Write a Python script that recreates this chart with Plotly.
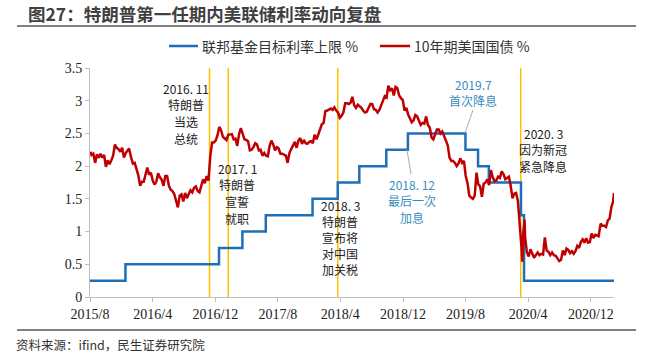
import plotly.graph_objects as go

# ---------------- data ----------------
fed_dates = ["2015-08-01", "2015-12-17", "2016-12-15", "2017-03-16", "2017-06-15",
             "2017-12-14", "2018-03-22", "2018-06-14", "2018-09-27", "2018-12-20",
             "2019-08-01", "2019-09-19", "2019-10-31", "2020-03-04", "2020-03-16",
             "2021-03-01"]
fed_upper = [0.25, 0.50, 0.75, 1.00, 1.25, 1.50, 1.75, 2.00, 2.25, 2.50,
             2.25, 2.00, 1.75, 1.25, 0.25, 0.25]

ust_dates = [
    "2015-08-03", "2015-08-07", "2015-08-14", "2015-08-21", "2015-08-28",
    "2015-09-04", "2015-09-11", "2015-09-18", "2015-09-25",
    "2015-10-02", "2015-10-09", "2015-10-16", "2015-10-23", "2015-10-30",
    "2015-11-06", "2015-11-13", "2015-11-20", "2015-11-27",
    "2015-12-04", "2015-12-11", "2015-12-18", "2015-12-25", "2015-12-31",
    "2016-01-08", "2016-01-15", "2016-01-22", "2016-01-29",
    "2016-02-05", "2016-02-12", "2016-02-19", "2016-02-26",
    "2016-03-04", "2016-03-11", "2016-03-18", "2016-03-25",
    "2016-04-01", "2016-04-08", "2016-04-15", "2016-04-22", "2016-04-29",
    "2016-05-06", "2016-05-13", "2016-05-20", "2016-05-27",
    "2016-06-03", "2016-06-10", "2016-06-17", "2016-06-24", "2016-07-01",
    "2016-07-08", "2016-07-15", "2016-07-22", "2016-07-29",
    "2016-08-05", "2016-08-12", "2016-08-19", "2016-08-26",
    "2016-09-02", "2016-09-09", "2016-09-16", "2016-09-23", "2016-09-30",
    "2016-10-07", "2016-10-14", "2016-10-21", "2016-10-28",
    "2016-11-04", "2016-11-09", "2016-11-11", "2016-11-18", "2016-11-25",
    "2016-12-02", "2016-12-09", "2016-12-16", "2016-12-23", "2016-12-30",
    "2017-01-06", "2017-01-13", "2017-01-20", "2017-01-27",
    "2017-02-03", "2017-02-10", "2017-02-17", "2017-02-24",
    "2017-03-03", "2017-03-10", "2017-03-17", "2017-03-24", "2017-03-31",
    "2017-04-07", "2017-04-14", "2017-04-21", "2017-04-28",
    "2017-05-05", "2017-05-12", "2017-05-19", "2017-05-26",
    "2017-06-02", "2017-06-09", "2017-06-16", "2017-06-23", "2017-06-30",
    "2017-07-07", "2017-07-14", "2017-07-21", "2017-07-28",
    "2017-08-04", "2017-08-11", "2017-08-18", "2017-08-25",
    "2017-09-01", "2017-09-08", "2017-09-15", "2017-09-22", "2017-09-29",
    "2017-10-06", "2017-10-13", "2017-10-20", "2017-10-27",
    "2017-11-03", "2017-11-10", "2017-11-17", "2017-11-24",
    "2017-12-01", "2017-12-08", "2017-12-15", "2017-12-22", "2017-12-29",
    "2018-01-05", "2018-01-12", "2018-01-19", "2018-01-26",
    "2018-02-02", "2018-02-09", "2018-02-16", "2018-02-23",
    "2018-03-02", "2018-03-09", "2018-03-16", "2018-03-23", "2018-03-30",
    "2018-04-06", "2018-04-13", "2018-04-20", "2018-04-27",
    "2018-05-04", "2018-05-11", "2018-05-18", "2018-05-25",
    "2018-06-01", "2018-06-08", "2018-06-15", "2018-06-22", "2018-06-29",
    "2018-07-06", "2018-07-13", "2018-07-20", "2018-07-27",
    "2018-08-03", "2018-08-10", "2018-08-17", "2018-08-24", "2018-08-31",
    "2018-09-07", "2018-09-14", "2018-09-21", "2018-09-28",
    "2018-10-05", "2018-10-12", "2018-10-19", "2018-10-26",
    "2018-11-02", "2018-11-09", "2018-11-16", "2018-11-23", "2018-11-30",
    "2018-12-07", "2018-12-14", "2018-12-21", "2018-12-28",
    "2019-01-04", "2019-01-11", "2019-01-18", "2019-01-25",
    "2019-02-01", "2019-02-08", "2019-02-15", "2019-02-22",
    "2019-03-01", "2019-03-08", "2019-03-15", "2019-03-22", "2019-03-29",
    "2019-04-05", "2019-04-12", "2019-04-19", "2019-04-26",
    "2019-05-03", "2019-05-10", "2019-05-17", "2019-05-24", "2019-05-31",
    "2019-06-07", "2019-06-14", "2019-06-21", "2019-06-28",
    "2019-07-05", "2019-07-12", "2019-07-19", "2019-07-26",
    "2019-08-02", "2019-08-09", "2019-08-16", "2019-08-23", "2019-08-30",
    "2019-09-06", "2019-09-13", "2019-09-20", "2019-09-27",
    "2019-10-04", "2019-10-11", "2019-10-18", "2019-10-25",
    "2019-11-01", "2019-11-08", "2019-11-15", "2019-11-22", "2019-11-29",
    "2019-12-06", "2019-12-13", "2019-12-20", "2019-12-27",
    "2020-01-03", "2020-01-10", "2020-01-17", "2020-01-24", "2020-01-31",
    "2020-02-07", "2020-02-14", "2020-02-21", "2020-02-28",
    "2020-03-03", "2020-03-06", "2020-03-09", "2020-03-13", "2020-03-18",
    "2020-03-20", "2020-03-27",
    "2020-04-03", "2020-04-10", "2020-04-17", "2020-04-24",
    "2020-05-01", "2020-05-08", "2020-05-15", "2020-05-22", "2020-05-29",
    "2020-06-05", "2020-06-12", "2020-06-19", "2020-06-26",
    "2020-07-03", "2020-07-10", "2020-07-17", "2020-07-24", "2020-07-31",
    "2020-08-07", "2020-08-14", "2020-08-21", "2020-08-28",
    "2020-09-04", "2020-09-11", "2020-09-18", "2020-09-25",
    "2020-10-02", "2020-10-09", "2020-10-16", "2020-10-23", "2020-10-30",
    "2020-11-06", "2020-11-13", "2020-11-20", "2020-11-27",
    "2020-12-04", "2020-12-11", "2020-12-18", "2020-12-25", "2020-12-31",
    "2021-01-08", "2021-01-15", "2021-01-22", "2021-01-29",
    "2021-02-05", "2021-02-12", "2021-02-19", "2021-02-25", "2021-03-01",
]
ust_10y = [
    2.22, 2.17, 2.19, 2.05, 2.18,
    2.13, 2.19, 2.13, 2.17,
    1.99, 2.09, 2.03, 2.09, 2.16,
    2.33, 2.28, 2.26, 2.22,
    2.28, 2.13, 2.20, 2.25, 2.27,
    2.13, 2.04, 2.05, 1.94,
    1.86, 1.70, 1.76, 1.76,
    1.88, 1.98, 1.87, 1.90,
    1.78, 1.72, 1.76, 1.89, 1.83,
    1.79, 1.70, 1.85, 1.85,
    1.70, 1.64, 1.62, 1.57, 1.46,
    1.37, 1.55, 1.57, 1.46,
    1.59, 1.51, 1.58, 1.63,
    1.60, 1.67, 1.69, 1.62, 1.60,
    1.72, 1.80, 1.74, 1.85,
    1.78, 2.07, 2.15, 2.36, 2.36,
    2.39, 2.47, 2.60, 2.55, 2.45,
    2.42, 2.40, 2.48, 2.49,
    2.49, 2.41, 2.42, 2.31,
    2.49, 2.58, 2.50, 2.41, 2.40,
    2.38, 2.24, 2.25, 2.29,
    2.35, 2.33, 2.24, 2.25,
    2.16, 2.20, 2.16, 2.15, 2.31,
    2.39, 2.33, 2.24, 2.29,
    2.27, 2.19, 2.19, 2.17,
    2.16, 2.05, 2.20, 2.26, 2.33,
    2.37, 2.28, 2.39, 2.43,
    2.34, 2.40, 2.35, 2.34,
    2.37, 2.38, 2.35, 2.48, 2.41,
    2.48, 2.55, 2.64, 2.66,
    2.84, 2.85, 2.87, 2.88,
    2.86, 2.90, 2.85, 2.82, 2.74,
    2.77, 2.82, 2.96, 2.96,
    2.95, 2.97, 3.06, 2.93,
    2.89, 2.94, 2.92, 2.89, 2.85,
    2.82, 2.83, 2.89, 2.95,
    2.95, 2.87, 2.86, 2.82, 2.86,
    2.94, 2.99, 3.07, 3.05,
    3.23, 3.16, 3.19, 3.08,
    3.21, 3.19, 3.08, 3.04, 3.01,
    2.85, 2.89, 2.79, 2.72,
    2.67, 2.70, 2.78, 2.76,
    2.70, 2.63, 2.66, 2.65,
    2.76, 2.63, 2.59, 2.44, 2.41,
    2.50, 2.56, 2.56, 2.50,
    2.53, 2.45, 2.39, 2.32, 2.13,
    2.08, 2.08, 2.05, 2.00,
    2.04, 2.12, 2.05, 2.08,
    1.85, 1.74, 1.55, 1.52, 1.50,
    1.55, 1.90, 1.72, 1.69,
    1.53, 1.73, 1.75, 1.80,
    1.71, 1.94, 1.83, 1.77, 1.78,
    1.84, 1.82, 1.92, 1.88,
    1.80, 1.82, 1.84, 1.70, 1.51,
    1.58, 1.59, 1.47, 1.13,
    1.02, 0.76, 0.54, 0.98, 1.18,
    0.92, 0.68,
    0.62, 0.73, 0.65, 0.60,
    0.64, 0.68, 0.64, 0.66, 0.65,
    0.91, 0.71, 0.69, 0.64,
    0.68, 0.64, 0.63, 0.59, 0.55,
    0.57, 0.71, 0.64, 0.74,
    0.72, 0.67, 0.70, 0.66,
    0.70, 0.78, 0.75, 0.84, 0.88,
    0.83, 0.90, 0.83, 0.84,
    0.97, 0.90, 0.95, 0.94, 0.93,
    1.12, 1.09, 1.09, 1.07,
    1.17, 1.20, 1.38, 1.45, 1.59,
]

series_names = ["联邦基金目标利率上限 %", "10年期美国国债 %"]
event_dates = ["2016-11-08", "2017-01-20", "2018-03-22", "2020-03-03"]

x_tick_vals = ["2015-08-01", "2016-04-01", "2016-12-01", "2017-08-01", "2018-04-01",
               "2018-12-01", "2019-08-01", "2020-04-01", "2020-12-01"]
x_tick_text = ["2015/8", "2016/4", "2016/12", "2017/8", "2018/4",
               "2018/12", "2019/8", "2020/4", "2020/12"]
y_tick_vals = [0, 0.5, 1, 1.5, 2, 2.5, 3, 3.5]
y_tick_text = ["0", "0.5", "1", "1.5", "2", "2.5", "3", "3.5"]

# ---------------- layout helpers (pixel -> paper) ----------------
W, H = 652, 364
L, R, T, B = 90, 38, 68, 67
PW, PH = W - L - R, H - T - B


def px(x):
    return (x - L) / PW


def py(y):
    return (H - B - y) / PH


BLUE = "#1F6FB8"
RED = "#C00000"
YELLOW = "#FFC000"
TEAL = "#3A8DC0"
CJK = "Noto Sans CJK SC"
SERIF = "Liberation Serif"

fig = go.Figure()
fig.add_trace(go.Scatter(x=fed_dates, y=fed_upper, mode="lines", line_shape="hv",
                         name=series_names[0], showlegend=False,
                         line=dict(color=BLUE, width=2.5)))
fig.add_trace(go.Scatter(x=ust_dates, y=ust_10y, mode="lines",
                         name=series_names[1], showlegend=False,
                         line=dict(color=RED, width=2.5)))

shapes = []
for d in event_dates:
    shapes.append(dict(type="line", xref="x", yref="y", x0=d, x1=d, y0=0, y1=3.5,
                       line=dict(color=YELLOW, width=1.5), layer="below"))
# leader lines
shapes.append(dict(type="line", xref="paper", yref="paper",
                   x0=px(407), y0=py(150), x1=px(411), y1=py(174),
                   line=dict(color="#AAAAAA", width=1)))
shapes.append(dict(type="line", xref="paper", yref="paper",
                   x0=px(465), y0=py(133), x1=px(473), y1=py(110),
                   line=dict(color="#AAAAAA", width=1)))
# top and bottom rules
shapes.append(dict(type="line", xref="paper", yref="paper",
                   x0=px(17), y0=py(26), x1=px(636), y1=py(26),
                   line=dict(color="#555555", width=1.5)))
shapes.append(dict(type="line", xref="paper", yref="paper",
                   x0=px(17), y0=py(330), x1=px(636), y1=py(330),
                   line=dict(color="#555555", width=1.5)))
# legend swatches
shapes.append(dict(type="line", xref="paper", yref="paper",
                   x0=px(169), y0=py(46), x1=px(198), y1=py(46),
                   line=dict(color=BLUE, width=2.5)))
shapes.append(dict(type="line", xref="paper", yref="paper",
                   x0=px(380), y0=py(46), x1=px(410), y1=py(46),
                   line=dict(color=RED, width=2.5)))

annotations = []


def note(lines, x, y0, step, color="#222222", size=12):
    for i, t in enumerate(lines):
        annotations.append(dict(text=t, xref="paper", yref="paper",
                                x=px(x), y=py(y0 + i * step),
                                xanchor="center", yanchor="middle", showarrow=False,
                                font=dict(family=CJK, size=size, color=color)))


note(["2016. 11", "特朗普", "当选", "总统"], 186, 88, 16.7)
note(["2017. 1", "特朗普", "宣誓", "就职"], 237, 168, 16.7)
note(["2018. 3", "特朗普", "宣布将", "对中国", "加关税"], 340, 205, 16.2)
note(["2018. 12", "最后一次", "加息"], 412, 184, 16.5, color=TEAL)
note(["2019.7", "首次降息"], 473, 85, 15.5, color=TEAL)
note(["2020. 3", "因为新冠", "紧急降息"], 543, 133, 16.5)


def text(t, x, y, size, color="#333333", family=CJK):
    annotations.append(dict(text=t, xref="paper", yref="paper", x=px(x), y=py(y),
                            xanchor="left", yanchor="middle", showarrow=False,
                            font=dict(family=family, size=size, color=color)))


text("<b>图27：特朗普第一任期内美联储利率动向复盘</b>", 26, 14, 17.5, color="#404040")
text(series_names[0], 200, 46, 14)
text(series_names[1], 412, 46, 14)
text("资料来源：ifind，民生证券研究院", 14, 344, 12.5)

fig.update_layout(
    width=W, height=H,
    margin=dict(l=L, r=R, t=T, b=B, autoexpand=False),
    paper_bgcolor="white", plot_bgcolor="white",
    shapes=shapes, annotations=annotations,
    showlegend=False,
    xaxis=dict(type="date", range=["2015-08-01", "2021-03-01"],
               tickvals=x_tick_vals, ticktext=x_tick_text,
               showgrid=False, zeroline=False,
               showline=True, linecolor="#BFBFBF", linewidth=1,
               ticks="outside", ticklen=4, tickcolor="#BFBFBF",
               tickfont=dict(family=SERIF, size=14, color="#222222")),
    yaxis=dict(range=[0, 3.5], tickvals=y_tick_vals, ticktext=y_tick_text,
               showgrid=False, zeroline=False,
               showline=True, linecolor="#BFBFBF", linewidth=1,
               ticks="outside", ticklen=4, tickcolor="#BFBFBF",
               tickfont=dict(family=SERIF, size=14, color="#222222")),
)

fig.write_html("out.html",
               config={"displayModeBar": False},
               post_script="document.body.style.margin='0';"
                           "document.body.style.overflow='hidden';")
